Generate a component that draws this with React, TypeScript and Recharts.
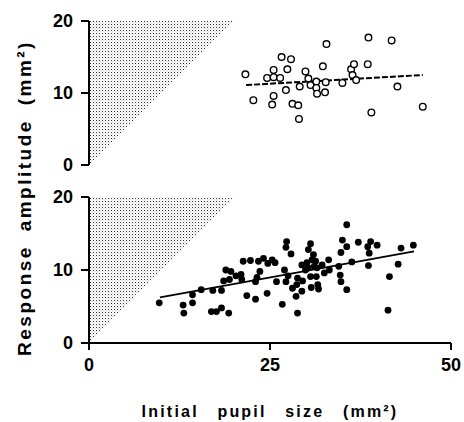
import React from 'react';
import { ComposedChart, Scatter, Line, Area, XAxis, YAxis } from 'recharts';

// top panel (open circles)
const topX = [21.6, 22.7, 24.6, 25.5, 25.5, 26.4, 26.6, 27.9, 27.4, 27.2, 25.5, 25.3, 28.1, 28.9, 29.0, 29.1, 29.9, 30.3, 30.6, 31.4, 31.4, 31.5, 32.3, 32.7, 32.6, 32.8, 35.0, 36.2, 36.6, 36.4, 36.9, 38.6, 38.5, 39.0, 41.8, 42.6, 46.1];
const topY = [12.6, 9.0, 12.1, 12.2, 13.2, 12.1, 15.0, 14.7, 13.3, 10.4, 9.6, 8.4, 8.5, 8.3, 6.4, 10.9, 13.0, 12.0, 11.1, 11.6, 10.7, 9.9, 13.7, 11.5, 10.1, 16.8, 11.4, 13.3, 14.0, 12.5, 11.8, 17.7, 14.0, 7.3, 17.3, 10.9, 8.1];

// bottom panel (filled dots)
const botX = [9.7, 13.0, 13.1, 14.3, 14.3, 15.5, 16.9, 17.6, 18.3, 19.3, 17.1, 18.3, 18.6, 18.9, 19.6, 19.4, 20.3, 21.0, 21.1, 21.8, 23.0, 21.3, 22.3, 23.4, 24.1, 24.7, 25.3, 25.7, 23.6, 23.0, 23.2, 24.6, 25.9, 26.7, 27.0, 27.2, 27.3, 27.2, 27.9, 27.5, 28.1, 28.6, 28.8, 28.8, 28.7, 29.4, 29.5, 29.9, 29.4, 30.1, 30.3, 30.6, 30.7, 30.3, 30.6, 31.0, 30.8, 31.3, 31.1, 31.5, 31.4, 31.6, 31.7, 32.2, 32.5, 33.1, 33.2, 34.5, 34.7, 34.8, 35.6, 34.8, 35.0, 35.6, 35.6, 36.3, 37.2, 38.5, 38.9, 38.7, 39.8, 38.6, 41.5, 41.3, 42.7, 43.1, 44.8];
const botY = [5.5, 5.2, 4.1, 6.6, 5.5, 7.3, 4.3, 4.3, 4.8, 4.1, 7.2, 7.2, 8.5, 10.0, 9.8, 8.7, 9.2, 9.4, 8.7, 6.5, 6.0, 11.2, 11.3, 11.2, 11.6, 10.9, 11.4, 11.0, 9.8, 8.4, 9.0, 6.8, 8.4, 5.3, 10.0, 8.4, 13.9, 13.1, 12.2, 9.2, 7.5, 6.4, 8.9, 4.1, 8.0, 7.1, 8.5, 10.0, 10.7, 11.0, 10.3, 9.1, 7.6, 12.8, 13.6, 12.1, 11.4, 11.2, 10.5, 10.3, 9.1, 8.0, 7.4, 10.7, 9.6, 11.4, 10.0, 10.5, 9.3, 8.4, 7.3, 12.4, 14.1, 13.2, 16.2, 11.1, 13.8, 13.2, 13.9, 12.3, 13.4, 10.6, 9.1, 4.5, 10.8, 13.0, 13.4];

// regression lines (end points)
const topFitX = [21.7, 46.1];
const topFitY = [11.1, 12.5];
const botFitX = [9.8, 44.9];
const botFitY = [6.25, 12.55];

// shaded region: amplitude > pupil size
const shadeX = [0, 20];
const shadeLow = [0, 20];
const shadeHigh = [20, 20];

const xTicks = [0, 25, 50];
const yTicks = [0, 10, 20];

const font = '"Liberation Sans", Arial, sans-serif';
const tickStyle = { fontSize: 18, fontWeight: 700, fill: '#000', fontFamily: font };

const zip = (xs: number[], ys: number[]) => xs.map((x, i) => ({ x, y: ys[i] }));
const topData = zip(topX, topY);
const botData = zip(botX, botY);
const topFit = zip(topFitX, topFitY);
const botFit = zip(botFitX, botFitY);
const shade = shadeX.map((x, i) => ({ x, band: [shadeLow[i], shadeHigh[i]] }));

const OpenDot = (p: any) => <circle cx={p.cx} cy={p.cy} r={3.3} fill="#fff" stroke="#000" strokeWidth={1.4} />;
const FullDot = (p: any) => <circle cx={p.cx} cy={p.cy} r={3.4} fill="#000" />;

const Stipple = ({ id }: { id: string }) => (
  <defs>
    <pattern id={id} width={3} height={3} patternUnits="userSpaceOnUse">
      <rect x={0} y={0} width={1} height={1} fill="#333" />
      <rect x={1.5} y={1.5} width={0.8} height={0.8} fill="#888" />
    </pattern>
  </defs>
);

const Panel = ({ data, fit, filled, showX, height, margin, pid }: any) => (
  <ComposedChart width={464} height={height} margin={margin}>
    <Stipple id={pid} />
    <XAxis
      type="number"
      dataKey="x"
      domain={[0, 50]}
      ticks={xTicks}
      hide={!showX}
      axisLine={{ stroke: '#000', strokeWidth: 2 }}
      tickLine={{ stroke: '#000', strokeWidth: 2 }}
      tickSize={7}
      tickMargin={8}
      tick={tickStyle}
      height={75}
      label={showX ? {
        value: 'Initial pupil size (mm²)',
        position: 'insideBottom',
        offset: 1,
        style: { fontSize: 16, fontWeight: 700, fill: '#000', fontFamily: font, letterSpacing: 2.2, wordSpacing: 12 },
      } : undefined}
    />
    <YAxis
      type="number"
      domain={[0, 20]}
      ticks={yTicks}
      width={89}
      axisLine={{ stroke: '#000', strokeWidth: 2 }}
      tickLine={{ stroke: '#000', strokeWidth: 2 }}
      tickSize={8}
      tickMargin={8}
      tick={tickStyle}
    />
    <Area data={shade} dataKey="band" type="linear" stroke="none" fill={`url(#${pid})`} fillOpacity={1} isAnimationActive={false} />
    <Line data={fit} dataKey="y" type="linear" stroke="#000" strokeWidth={2} strokeDasharray={filled ? undefined : '6 2'} dot={false} activeDot={false} isAnimationActive={false} />
    <Scatter data={data} dataKey="y" shape={filled ? FullDot : OpenDot} isAnimationActive={false} />
  </ComposedChart>
);

export default function App() {
  return (
    <div style={{ position: 'absolute', left: 0, top: 0, width: 464, height: 422, background: '#fff', fontFamily: font }}>
      <div style={{ position: 'absolute', left: 0, top: 0 }}>
        <Panel data={topData} fit={topFit} filled={false} showX={false} height={180} margin={{ top: 21, right: 13, bottom: 15, left: 0 }} pid="stipTop" />
      </div>
      <div style={{ position: 'absolute', left: 0, top: 180 }}>
        <Panel data={botData} fit={botFit} filled={true} showX={true} height={242} margin={{ top: 17, right: 13, bottom: 4, left: 0 }} pid="stipBot" />
      </div>
      <div
        style={{
          position: 'absolute',
          left: 25,
          top: 198,
          transform: 'translate(-50%, -50%) rotate(-90deg)',
          whiteSpace: 'nowrap',
          fontSize: 19,
          fontWeight: 700,
          letterSpacing: 2.5,
          wordSpacing: 6,
          color: '#000',
        }}
      >
        Response amplitude (mm²)
      </div>
    </div>
  );
}
